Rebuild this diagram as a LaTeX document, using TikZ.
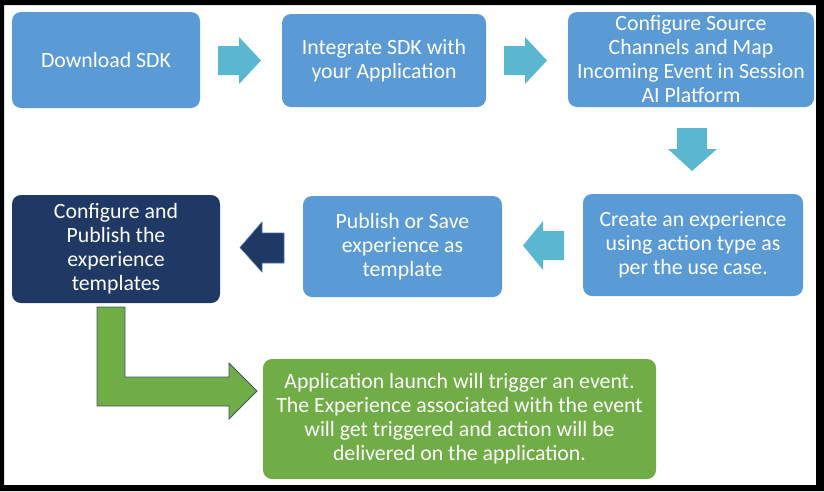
\documentclass[tikz,border=0pt]{standalone}
\usepackage{fontspec}
\setmainfont{Carlito}
\definecolor{boxblue}{HTML}{5B9BD5}
\definecolor{arrowcyan}{HTML}{5BB7CF}
\definecolor{navy}{HTML}{1F3864}
\definecolor{grn}{HTML}{70AD47}
\definecolor{grnedge}{HTML}{44546A}
\tikzset{
  box/.style={fill=boxblue, draw=none, rounded corners=9pt, text=white, align=center,
    font=\fontsize{21.8}{24}\selectfont, inner sep=0pt},
  darkbox/.style={box, fill=navy},
  greenbox/.style={box, fill=grn},
  blockarrow/.style={fill=arrowcyan, draw=none},
  darkarrow/.style={fill=navy, draw=boxblue!60!navy, line width=0.6pt},
  greenarrow/.style={fill=grn, draw=grnedge, line width=0.8pt, line join=miter}
}
\begin{document}
\begin{tikzpicture}[x=1pt, y=-1pt]
\useasboundingbox (0,0) rectangle (824,491);
% frame
\fill[black, even odd rule] (0,0) rectangle (824,491) (4,5) rectangle (816,485);
% boxes
\node[box, minimum width=188pt, minimum height=96pt] (b1) at (106,60) {Download SDK};
\node[box, minimum width=204pt, minimum height=93pt] (b2) at (384,60.5) {Integrate SDK with\\your Application};
\node[box, minimum width=246pt, minimum height=95pt] (b3) at (691,59.5) {Configure Source\\Channels and Map\\Incoming Event in Session\\AI Platform};
\node[box, minimum width=220pt, minimum height=102pt] (b4) at (693,245) {Create an experience\\using action type as\\per the use case.};
\node[box, minimum width=199pt, minimum height=101pt] (b5) at (402.5,246.5) {Publish or Save\\experience as\\template};
\node[darkbox, minimum width=208pt, minimum height=108pt] (b6) at (116,249) {Configure and\\Publish the\\experience\\templates};
\node[greenbox, minimum width=393pt, minimum height=120pt] (b7) at (459.5,419) {Application launch will trigger an event.\\The Experience associated with the event\\will get triggered and action will be\\delivered on the application.};
% block arrows
\fill[blockarrow] (218,46) -- (239,46) -- (239,37) -- (261,60.5) -- (239,84) -- (239,75) -- (218,75) -- cycle;
\fill[blockarrow] (504,46) -- (525,46) -- (525,37) -- (547,60.5) -- (525,84) -- (525,75) -- (504,75) -- cycle;
\fill[blockarrow] (677,128) -- (707,128) -- (707,149) -- (717,149) -- (692,171) -- (668,149) -- (677,149) -- cycle;
\fill[blockarrow] (564,231) -- (543,231) -- (543,221) -- (523,245.5) -- (543,270) -- (543,260) -- (564,260) -- cycle;
\filldraw[darkarrow] (284,233) -- (262,233) -- (262,222) -- (240,247.5) -- (262,272) -- (262,263) -- (284,263) -- cycle;
% bent green arrow
\filldraw[greenarrow] (97,307) -- (125,307) -- (125,377) -- (229,377) -- (229,363) -- (257,391) -- (229,419) -- (229,406) -- (97,406) -- cycle;
\end{tikzpicture}
\end{document}
